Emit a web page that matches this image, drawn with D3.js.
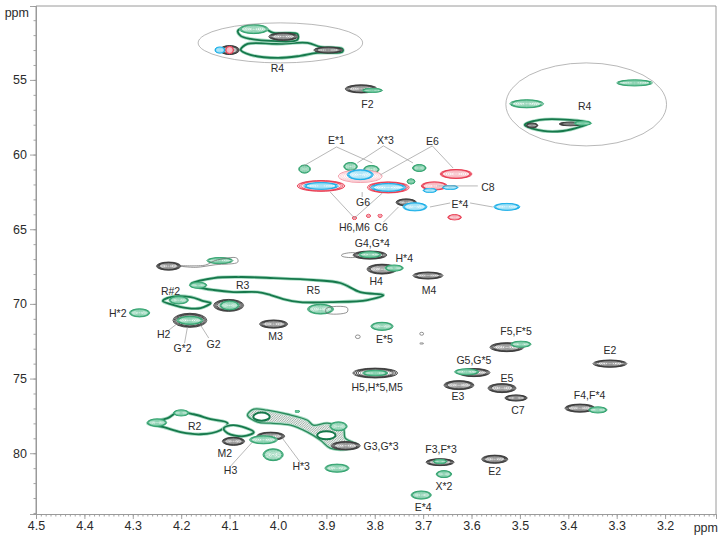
<!DOCTYPE html>
<html><head><meta charset="utf-8">
<script src="https://cdn.jsdelivr.net/npm/d3@7"></script>
<style>html,body{margin:0;background:#fff}svg{display:block}text{font-family:"Liberation Sans",Arial,sans-serif;fill:#2b2b2b}</style>
</head><body><svg id="c" width="724" height="541"></svg>
<script>
// peaks: [1H ppm, 13C ppm, half width ppm, half height ppm]
const grayPeaks=[[3.828,55.6,.033,.27],[3.527,72.9,.035,.3],[3.314,74.0,.035,.24],[3.595,74.6,.033,.27],[3.626,75.44,.031,.3],[3.537,75.64,.029,.3],[3.508,76.3,.023,.2],[3.376,76.98,.031,.27],[3.665,80.6,.029,.23],[3.552,80.4,.027,.27],[4.009,71.35,.029,.27],[3.69,68.1,.031,.23],[3.785,67.67,.031,.33],[3.81,66.73,.035,.27],[4.092,79.2,.023,.27],[4.015,78.86,.029,.27],[4.182,71.1,.035,.47],[4.226,67.47,.025,.27],[3.735,63.2,.021,.23],[4.102,70.1,.031,.4],[3.799,74.63,.046,.33],[3.896,53,.03,.2],[4.1,53,.02,.3],[3.989,52.1,.03,.25],[3.395,57.95,.024,.12],[3.475,58.05,.012,.15],[3.86,79.5,.03,.28]];
const greenPeaks=[[3.486,56.6,.035,.27],[3.263,55.2,.037,.2],[4.286,70.6,.021,.27],[4.182,71.1,.027,.27],[3.785,71.5,.023,.27],[3.498,72.7,.021,.2],[3.339,77.1,.019,.2],[3.657,81.4,.016,.23],[3.704,82.8,.021,.27],[3.61,74.55,.025,.2],[3.665,80.55,.014,.14],[3.76,67.6,.019,.2],[3.81,66.7,.023,.2],[3.878,81,.025,.27],[4.01,80.1,.021,.4],[4.03,79.1,.029,.27],[4.12,67.1,.027,.2],[3.805,55.7,.021,.13],[3.945,60.97,.012,.27],[3.85,60.8,.014,.27],[3.807,61,.016,.27],[3.708,60.9,.014,.23],[3.725,61.8,.008,.17],[3.912,70.35,.027,.33],[4.1,70.1,.02,.3],[4.205,69.75,.02,.25],[3.799,74.63,.026,.18],[4.25,77.95,.02,.25],[4.2,77.3,.016,.2],[4.165,68.75,.018,.2],[4.05,51.6,.03,.3],[3.96,77.2,.005,.05],[3.37,57.9,.018,.12],[3.875,78.2,.018,.3]];
const redPeaks=[[3.632,61.3,.033,.3],[3.911,62.1,.049,.36],[3.677,62.1,.027,.27],[3.772,62.2,.043,.37],[3.635,64.2,.014,.17],[3.842,64.25,.004,.1],[3.813,64.1,.004,.1],[3.789,64.1,.004,.1],[4.1,53,.008,.25]];
const pinkPeaks=[[3.83,61.45,.045,.42]];
const bluePeaks=[[3.527,63.5,.027,.23],[3.717,63.5,.025,.27],[3.911,62.1,.036,.22],[3.83,61.35,.027,.33],[3.772,62.2,.036,.26],[3.686,62.4,.014,.13],[3.644,62.2,.016,.13],[4.12,53,.01,.2]];
const tinyPeaks=[[3.703,72.0,.004,.1],[3.703,72.65,.004,.04],[3.835,72.2,.005,.12]];
// ridges traced as closed outlines: [1H ppm, 13C ppm]
const ridgeR4Main=[[4.077,52.99],[4.063,52.59],[4.001,52.59],[3.939,52.52],[3.912,52.79],[3.867,52.92],[3.867,53.12],[3.919,53.19],[3.954,53.39],[4.001,53.53],[4.057,53.32]];
const ridgeR4Upper=[[4.083,51.72],[4.071,51.52],[4.03,51.52],[4.009,51.85],[3.96,51.92],[3.96,52.32],[4.015,52.39],[4.057,52.25],[4.077,52.05]];
const ridgeR4Right=[[3.49,58.02],[3.459,57.68],[3.397,57.68],[3.356,57.88],[3.376,58.15],[3.411,58.42],[3.452,58.42]];
const ridgeR3R5=[[4.18,68.67],[4.133,68.27],[4.077,68.2],[4.009,68.27],[3.927,68.4],[3.871,68.6],[3.83,69.21],[3.782,69.41],[3.815,69.74],[3.886,69.88],[3.954,69.88],[3.989,69.68],[4.015,69.41],[4.042,69.21],[4.092,69.21],[4.133,69.07],[4.166,68.87]];
const ridgeRh2=[[4.238,69.81],[4.222,69.54],[4.18,69.54],[4.154,69.81],[4.139,69.94],[4.16,70.28],[4.187,70.28],[4.222,70.01]];
const ridgeR2=[[4.269,77.99],[4.228,77.65],[4.207,77.25],[4.174,77.39],[4.139,77.72],[4.104,77.99],[4.119,78.46],[4.16,78.73],[4.201,78.59],[4.236,78.26]];
const ridgeR2Right=[[4.112,78.32],[4.092,78.12],[4.05,78.59],[4.071,78.86],[4.104,78.66]];
const ridgeG3=[[4.063,77.45],[4.05,77.05],[4.022,77.12],[3.98,77.39],[3.939,77.79],[3.927,78.12],[3.898,77.99],[3.865,78.32],[3.861,78.99],[3.834,79.46],[3.857,79.73],[3.892,79.66],[3.912,79.13],[3.939,78.59],[3.974,78.12],[4.015,77.99],[4.042,77.92]];
const ridges=[ridgeR4Main,ridgeR4Upper,ridgeR4Right,ridgeR3R5,ridgeRh2,ridgeR2,ridgeR2Right];
const ridgeHoles=[[4.034,77.55,.017,.27],[3.9,78.8,.019,.27]];
const thinOutlines=[[[4.205,67.45],[4.15,67.4],[4.13,67.1],[4.085,66.93],[4.083,67.2],[4.13,67.38],[4.17,67.55]],[[3.868,66.7],[3.84,66.6],[3.84,66.85],[3.868,66.8]],[[3.9,70.3],[3.857,70.25],[3.857,70.55],[3.9,70.6]]];
// annotation
const regionEllipses=[[3.995,52.52,.17,1.34],[3.363,56.64,.166,2.78]];
const labels=[["R4",4.001,54.2],["F2",3.815,56.61],["R4",3.366,56.74],["E*1",3.879,59.02],["X*3",3.778,59.02],["E6",3.681,59.09],["C8",3.566,62.17],["G6",3.824,63.18],["E*4",3.624,63.31],["H6,M6",3.842,64.85],["C6",3.787,64.85],["G4,G*4",3.805,65.92],["H*4",3.739,66.93],["H4",3.797,68.47],["M4",3.688,69.07],["R3",4.073,68.74],["R5",3.927,69.07],["R#2",4.222,69.14],["H*2",4.331,70.61],["H2",4.236,72.02],["G*2",4.197,72.96],["G2",4.133,72.69],["M3",4.005,72.16],["E*5",3.78,72.36],["H5,H*5,M5",3.795,75.58],["F5,F*5",3.508,71.82],["G5,G*5",3.595,73.76],["E2",3.314,73.09],["E3",3.628,76.18],["E5",3.527,74.97],["C7",3.504,77.12],["F4,F*4",3.356,76.11],["R2",4.172,78.19],["M2",4.11,80.0],["H3",4.098,81.14],["H*3",3.952,80.87],["G3,G*3",3.787,79.53],["F3,F*3",3.663,79.73],["E2",3.552,81.2],["X*2",3.657,82.2],["E*4",3.7,83.62]];
const leaders=[[3.879,59.49,3.947,60.76],[3.879,59.49,3.805,60.56],[3.782,59.42,3.836,60.56],[3.782,59.42,3.721,60.56],[3.681,59.42,3.638,60.9],[3.681,59.42,3.789,61.37],[3.826,62.51,3.826,62.84],[3.842,64.25,3.892,62.51],[3.842,64.25,3.784,62.57],[3.782,64.52,3.751,63.51],[3.671,62.1,3.587,62.1],[3.686,63.51,3.644,63.24],[3.603,63.24,3.556,63.51],[4.207,71.29,4.228,71.82],[4.187,71.55,4.193,72.63],[4.16,71.42,4.143,72.29],[4.053,79.26,4.098,80.87],[3.991,78.99,3.954,80.6]];
const yTickValues=[55,60,65,70,75,80];
const xTickValues=[4.5,4.4,4.3,4.2,4.1,4.0,3.9,3.8,3.7,3.6,3.5,3.4,3.3,3.2];

const svg=d3.select("#c");
const x=d3.scaleLinear().domain([4.5,3.0948]).range([36,716]);
const y=d3.scaleLinear().domain([50.05,84.07]).range([6,514]);
const AXC="#9a9a9a";
const defs=svg.append("defs");
defs.append("filter").attr("id","soft").append("feGaussianBlur").attr("stdDeviation",.3);
const pat=defs.append("pattern").attr("id","hatch").attr("width",2.4).attr("height",2.4).attr("patternUnits","userSpaceOnUse");
pat.append("rect").attr("width",2.4).attr("height",2.4).attr("fill","#eef5f1");
pat.append("path").attr("d","M0,2.4L2.4,0").attr("stroke","#7e8a84").attr("stroke-width",.7);
const spec=svg.append("g");
const rings=[1,.93,.86,.78,.68,.56,.44,.3,.16];
function ellipse(g,p,s,col,w,op,fill){g.append("ellipse").attr("cx",x(p[0])).attr("cy",y(p[1]))
 .attr("rx",Math.abs(x(p[0]+p[2])-x(p[0]))*s).attr("ry",Math.abs(y(p[1]+p[3])-y(p[1]))*s)
 .attr("fill",fill||"none").attr("stroke",col).attr("stroke-width",w).attr("stroke-opacity",op);}
function drawPeaks(data,col,pale,strong){const g=spec.append("g").attr("filter","url(#soft)");data.forEach(p=>{ellipse(g,p,1,col,.1,0,"#fff");rings.forEach((s,i)=>ellipse(g,p,s,i<strong?col:pale,i<strong?.95:.6,.95));});}
const closed=d3.line().x(d=>x(d[0])).y(d=>y(d[1])).curve(d3.curveCatmullRomClosed.alpha(.5));
function drawRidge(pts){const g=spec.append("g").attr("filter","url(#soft)");
 g.append("path").attr("d",closed(pts)).attr("fill","none").attr("stroke","#a9dcc4").attr("stroke-width",3.4);
 g.append("path").attr("d",closed(pts)).attr("fill","none").attr("stroke","#16784b").attr("stroke-width",1.8);
}
// frame
svg.append("path").attr("d",`M36,514V6H716V514`).attr("fill","none").attr("stroke",AXC).attr("stroke-width",1);
// axes
const xAxis=svg.append("g").attr("transform",`translate(0,514)`).call(d3.axisBottom(x).tickValues(xTickValues).tickFormat(d3.format(".1f")).tickSize(5).tickPadding(2));
const xMinor=svg.append("g").attr("transform",`translate(0,514)`).call(d3.axisBottom(x).tickValues(d3.range(0,141).map(i=>4.5-i*.01)).tickFormat("").tickSize(2.5));
const yAxis=svg.append("g").attr("transform",`translate(36,0)`).call(d3.axisLeft(y).tickValues(yTickValues).tickSize(6).tickPadding(3));
const yMinor=svg.append("g").attr("transform",`translate(36,0)`).call(d3.axisLeft(y).tickValues(d3.range(51,85)).tickFormat("").tickSize(2.5));
[xAxis,xMinor,yAxis,yMinor].forEach(a=>{a.selectAll("path,line").attr("stroke",AXC).attr("stroke-width",.9);a.selectAll("text").attr("font-size",12.5).attr("fill","#222").attr("font-family","Liberation Sans");});
svg.append("text").attr("x",29).attr("y",17).attr("text-anchor","end").attr("font-size",12.5).text("ppm");
svg.append("text").attr("x",718).attr("y",532).attr("text-anchor","end").attr("font-size",12.5).text("ppm");
// spectra
const g3=spec.append("g").attr("filter","url(#soft)");
g3.append("path").attr("d",closed(ridgeG3)).attr("fill","url(#hatch)").attr("stroke","#a9dcc4").attr("stroke-width",3);
g3.append("path").attr("d",closed(ridgeG3)).attr("fill","none").attr("stroke","#2a8a5c").attr("stroke-width",1.3);
ridgeHoles.forEach(p=>{ellipse(g3,p,1,"#16784b",2,1,"#fff");});
ridges.forEach(drawRidge);
drawPeaks(grayPeaks,"#3a3a3a","#737373",4);
drawPeaks(greenPeaks,"#2fa06c","#6cc49b",3);
drawPeaks(pinkPeaks,"#f28b9a","#f8bcc5",1);
drawPeaks(redPeaks,"#e8354c","#f5a5af",3);
drawPeaks(bluePeaks,"#12ace6","#8adaf5",3);
tinyPeaks.forEach(p=>ellipse(spec,p,1,"#666",.7,1));
thinOutlines.forEach(t=>spec.append("path").attr("d",closed(t)).attr("fill","none").attr("stroke","#666").attr("stroke-width",.7));
// annotation
const ann=svg.append("g");
regionEllipses.forEach(p=>ellipse(ann,p,1,"#9a9a9a",.7,1));
leaders.forEach(l=>ann.append("line").attr("x1",x(l[0])).attr("y1",y(l[1])).attr("x2",x(l[2])).attr("y2",y(l[3])).attr("stroke","#9a9a9a").attr("stroke-width",.7));
labels.forEach(l=>ann.append("text").attr("x",x(l[1])).attr("y",y(l[2])).attr("dy",".36em").attr("text-anchor","middle").attr("font-size",10.5).text(l[0]));
</script></body></html>
